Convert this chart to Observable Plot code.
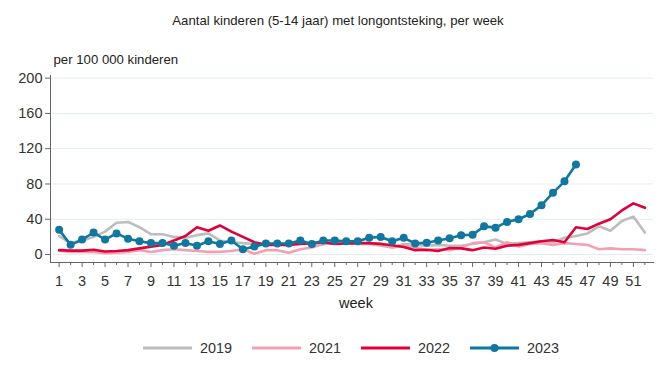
<!DOCTYPE html>
<html><head><meta charset="utf-8">
<script src="https://cdn.jsdelivr.net/npm/d3@7"></script>
<script src="https://cdn.jsdelivr.net/npm/@observablehq/plot@0.6"></script>
<style>
body{margin:0;background:#fff;font-family:"Liberation Sans",Arial,sans-serif;}
#wrap{position:relative;width:666px;height:376px;overflow:hidden;background:#fff}
#title{position:absolute;left:0;top:12px;width:676px;text-align:center;font-size:13.2px;color:#222;line-height:17px}
#chart{position:absolute;left:0;top:40px}
#legend{position:absolute;left:143px;top:339px;height:18px;display:flex;align-items:center;font-size:14.4px;color:#333}
#legend .it{display:flex;align-items:center;margin-right:20px}
#legend .it span{margin-left:8px}
</style></head>
<body><div id="wrap"><div id="title">Aantal kinderen (5-14 jaar) met longontsteking, per week</div><div id="chart"></div><div id="legend"></div></div>
<script>
const weeks = [1,2,3,4,5,6,7,8,9,10,11,12,13,14,15,16,17,18,19,20,21,22,23,24,25,26,27,28,29,30,31,32,33,34,35,36,37,38,39,40,41,42,43,44,45,46,47,48,49,50,51,52];
const oddWeeks = [1,3,5,7,9,11,13,15,17,19,21,23,25,27,29,31,33,35,37,39,41,43,45,47,49,51];
const evenWeeks = [2,4,6,8,10,12,14,16,18,20,22,24,26,28,30,32,34,36,38,40,42,44,46,48,50,52];
const yTicks = [0,40,80,120,160,200];
const series = ["2019","2021","2022","2023"];
const colors = ["#bdbdbd","#f3a0b4","#e2003b","#0f77a0"];

const v2019 = [21,13,16,20,26,36,37,31,23,23,20,19,22,24,16,14,13,12,12,12,12,13,12,12,13,13,12,12,10,8,12,11,10,11,10,10,12,14,17,12,13,14,15,14,19,21,24,32,27,38,43,25];
const v2021 = [4,3,3,3,1.5,2,3,5,3,5,6,5,4,3,3,4,6,1,5,5,2,6,8,12,13,14,13,12,13,8,10,8,5,6,5,8,13,14,8,14,9,12,13,11,13,12,11,6,7,6,6,5];
const v2022 = [5,4.5,4.5,5.5,3.5,4,5,7,9,11,16,21,31,27,33,26,20,14,11,11,11,12,13,14,12,12.5,13,13,12,10.5,8.5,5,5.5,4,7.5,7,5,8,6.5,10,11,13,15,16.5,14,31,29,35,40,50,58,53];
const v2023 = [28,11,17,25,17,24,18,15,13,13,10,13,10,15,12,16,6,9,12.5,12.5,12.5,16,12,16,16,15,15,19,20,15,19,12.5,13.5,16,18.5,22,22.5,32,30.5,37,40,46,56,70,83,102];

const values = [v2019, v2021, v2022, v2023];
const rows = values.map((vals, i) => vals.map((v, j) => ({week: weeks[j], value: v, year: series[i]})));

const lineMarks = rows.map((r, i) => Plot.line(r, {x: "week", y: "value", stroke: colors[i], strokeWidth: 2.6, strokeLinejoin: "round"}));

const chart = Plot.plot({
  width: 666, height: 290,
  marginLeft: 50, marginRight: 13, marginTop: 35, marginBottom: 68,
  style: {fontFamily: "Liberation Sans, Arial, sans-serif", fontSize: "14.5px", color: "#333", background: "transparent", overflow: "visible"},
  x: {domain: [0.25, 52.75]},
  y: {domain: [-9, 203]},
  marks: [
    Plot.gridY(yTicks, {stroke: "#e2eeee", strokeOpacity: 1, strokeWidth: 1}),
    Plot.axisY(yTicks, {tickSize: 5, tickPadding: 3, stroke: "#666", label: null, fontSize: 14.5}),
    Plot.axisX(evenWeeks, {tickSize: 3, tickFormat: () => "", label: null, stroke: "#666"}),
    Plot.axisX(oddWeeks, {tickSize: 5, tickPadding: 8, label: null, stroke: "#666", fontSize: 14.5}),
    Plot.frame({anchor: "left", stroke: "#666"}),
    Plot.frame({anchor: "bottom", stroke: "#666"}),
    Plot.text(["per 100 000 kinderen"], {frameAnchor: "top-left", textAnchor: "start", dx: 3, dy: -21, fontSize: 13.2, fill: "#222"}),
    Plot.text(["week"], {frameAnchor: "bottom", dy: 45, dx: 4, fontSize: 14.5, fill: "#222"}),
    ...lineMarks,
    Plot.dot(rows[3], {x: "week", y: "value", fill: colors[3], r: 4})
  ]
});
document.getElementById("chart").appendChild(chart);

const legend = document.getElementById("legend");
series.forEach((s, i) => {
  const it = document.createElement("div");
  it.className = "it";
  const dot = i === 3 ? `<circle cx="24.5" cy="5" r="4" fill="${colors[i]}"/>` : "";
  it.innerHTML = `<svg width="49" height="10"><line x1="0" x2="49" y1="5" y2="5" stroke="${colors[i]}" stroke-width="3"/>${dot}</svg><span>${s}</span>`;
  legend.appendChild(it);
});
</script>
</body></html>
